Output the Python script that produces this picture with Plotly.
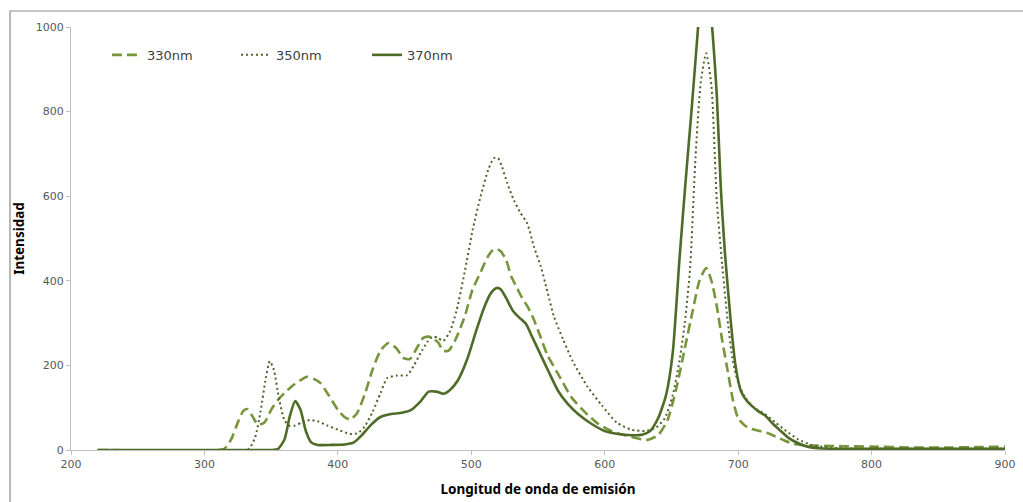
import plotly.graph_objects as go

# 330nm excitation (dashed)
wl_330 = [220, 310, 315, 320, 325, 329, 332, 336, 340, 345, 350, 355, 360, 366, 372, 377, 382, 387, 393, 400,
          405, 409, 414, 420, 426, 432, 438, 444, 449, 454, 459, 464, 468, 471, 475, 479, 483, 488, 495, 501,
          507, 512, 516, 519, 522, 526, 530, 534, 538, 542, 546, 551, 557, 565, 575, 585, 595, 605, 615, 625,
          632, 640, 647, 654, 660, 666, 671, 676, 680, 684, 688, 692, 696, 700, 705, 710, 716, 722, 728, 735,
          742, 750, 760, 780, 800, 830, 860, 880, 900]
int_330 = [0, 0, 3, 25, 65, 92, 97, 80, 60, 65, 95, 118, 135, 152, 165, 173, 168, 158, 130, 95,
           78, 72, 85, 130, 190, 235, 253, 240, 218, 215, 240, 265, 268, 264, 255, 235, 235, 260, 315, 380,
           420, 455, 472, 475, 470, 450, 410, 385, 360, 340, 315, 275, 225, 180, 125, 90, 62, 45, 35, 27,
           24, 35, 70, 150, 240, 330, 400, 430, 400, 340, 260, 190, 120, 75, 58, 50, 45, 40, 32, 22,
           14, 11, 10, 9, 8, 6, 6, 7, 8]

# 350nm excitation (dotted)
wl_350 = [220, 320, 333, 338, 342, 346, 349, 352, 356, 360, 364, 368, 373, 379, 385, 392, 400, 409, 415, 420,
          426, 432, 437, 444, 452, 457, 462, 467, 471, 475, 479, 484, 489, 495, 501, 507, 513, 517, 520, 523,
          527, 532, 537, 542, 547, 552, 557, 562, 569, 576, 587, 598, 609, 620, 630, 638, 645, 651, 656, 660,
          664, 668, 672, 676, 680, 684, 688, 692, 696, 700, 705, 712, 720, 728, 736, 745, 755, 770, 800, 850, 900]
int_350 = [0, 0, 2, 30, 90, 170, 210, 190, 120, 70, 57, 58, 65, 71, 68, 58, 48, 38, 40, 55,
           90, 135, 170, 176, 177, 200, 229, 255, 268, 265, 258, 280, 330, 420, 520, 600, 665, 690, 690, 670,
           630, 590, 560, 535, 480, 435, 375, 315, 260, 210, 150, 105, 65, 48, 45, 52, 75, 130, 210, 300,
           430, 690, 870, 938, 860, 590, 440, 310, 210, 160, 125, 100, 85, 65, 45, 25, 12, 5, 3, 3, 3]

# 370nm excitation (solid)
wl_370 = [220, 300, 350, 355, 360, 364, 368, 372, 376, 380, 385, 395, 405, 412, 418, 425, 432, 440, 448, 455,
          462, 468, 474, 479, 484, 490, 497, 504, 510, 515, 519, 522, 526, 531, 536, 541, 546, 552, 558, 565,
          572, 580, 590, 600, 610, 620, 628, 634, 640, 646, 651, 656, 661, 665, 669, 672, 675, 678, 681, 684,
          687, 690, 694, 698, 702, 706, 710, 715, 720, 726, 732, 738, 745, 752, 760, 770, 800, 850, 900]
int_370 = [0, 0, 0, 2, 25, 80, 116, 95, 45, 18, 12, 12, 13, 18, 35, 60, 78, 85, 88, 95,
           115, 138, 138, 133, 142, 165, 215, 285, 340, 372, 383, 380, 360, 330, 313, 298, 265, 225, 185, 140,
           110, 85, 62, 45, 38, 35, 36, 45, 75, 130, 230, 450, 650, 800, 960, 1080, 1150, 1080, 980, 840,
           620, 470, 320, 200, 140, 118, 105, 92, 82, 62, 45, 28, 16, 8, 4, 3, 3, 3, 3]

names = ["330nm", "350nm", "370nm"]
x_ticks = [200, 300, 400, 500, 600, 700, 800, 900]
y_ticks = [0, 200, 400, 600, 800, 1000]

fig = go.Figure()
fig.add_trace(go.Scatter(x=wl_330, y=int_330, name=names[0], mode="lines", legend="legend",
                         line=dict(color="#77963C", width=2.6, dash="10px,5px", shape="spline", smoothing=0.6)))
fig.add_trace(go.Scatter(x=wl_350, y=int_350, name=names[1], mode="lines", legend="legend2",
                         line=dict(color="#4F6228", width=2, dash="2px,3px", shape="spline", smoothing=0.6)))
fig.add_trace(go.Scatter(x=wl_370, y=int_370, name=names[2], mode="lines", legend="legend3",
                         line=dict(color="#4F6B28", width=2.6, shape="spline", smoothing=0.6)))

axis_font = dict(family="DejaVu Sans", size=11, color="#595959")
leg_font = dict(family="DejaVu Sans", size=13, color="#404040")


def leg(xp):
    return dict(orientation="h", x=xp, y=0.934, xanchor="left", yanchor="middle",
                bgcolor="rgba(0,0,0,0)", font=leg_font, itemwidth=30)


fig.update_layout(
    width=1023, height=502,
    margin=dict(l=71, r=18, t=27, b=52, autoexpand=False),
    paper_bgcolor="white", plot_bgcolor="white",
    showlegend=True,
    legend=leg(0.0385), legend2=leg(0.1767), legend3=leg(0.3169),
    xaxis=dict(range=[200, 900], tickvals=x_ticks, ticktext=[str(v) for v in x_ticks], automargin=False,
               showgrid=False, zeroline=False, showline=True, linecolor="#BFBFBF", linewidth=1,
               ticks="outside", ticklen=4, tickcolor="#BFBFBF", tickfont=axis_font,
               title=dict(text="<b>Longitud de onda de emisión</b>", standoff=14,
                          font=dict(family="Noto Sans", size=13.5, color="#000000"))),
    yaxis=dict(range=[0, 1000], tickvals=y_ticks, ticktext=[str(v) for v in y_ticks], automargin=False,
               showgrid=False, zeroline=False, showline=True, linecolor="#BFBFBF", linewidth=1,
               ticks="outside", ticklen=4, tickcolor="#BFBFBF", tickfont=axis_font,
               title=dict(text="<b>Intensidad</b>", standoff=8,
                          font=dict(family="Noto Sans", size=13.5, color="#000000"))),
)

# outer chart border (cropped at right and bottom)
fig.add_shape(type="path", xref="paper", yref="paper",
              path="M -0.0653,-0.3 L -0.0653,1.0378 L 1.2,1.0378",
              line=dict(color="#8C8C8C", width=1.2))

fig.write_html("out.html")
